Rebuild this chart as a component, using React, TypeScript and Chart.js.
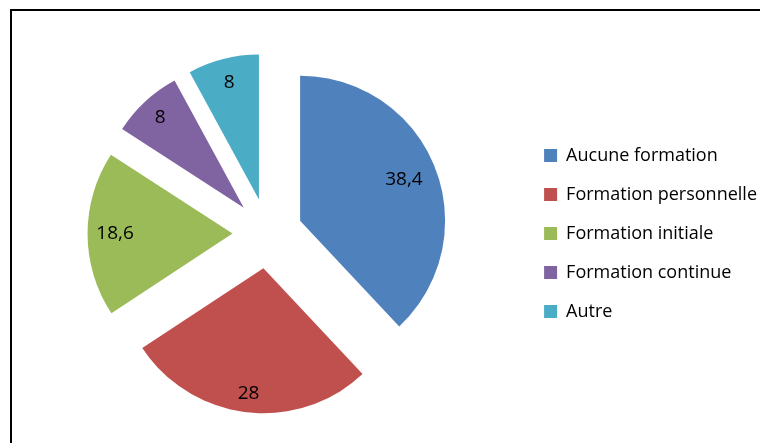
import React, { useEffect, useRef } from 'react';
import { Chart, registerables } from 'chart.js';

Chart.register(...registerables);

const categories = ['Aucune formation', 'Formation personnelle', 'Formation initiale', 'Formation continue', 'Autre'];
const values = [38.4, 28, 18.6, 8, 8];
const valueLabels = ['38,4', '28', '18,6', '8', '8'];
const colors = ['#4F81BD', '#C0504D', '#9BBB59', '#8064A2', '#4BACC6'];

const EXPLODE = 35;
const RADIUS = 145;
const LABEL_RADIUS = [0.77, 0.87, 0.81, 0.85, 0.83];
const FONT_FAMILY = '"Open Sans", "Noto Sans", sans-serif';
const LEGEND_FONT_SIZE = 18;
const LABEL_FONT_SIZE = 19;

const explodedPie = {
  id: 'explodedPie',
  beforeDatasetDraw(chart: any, args: any) {
    const ctx = chart.ctx;
    args.meta.data.forEach((arc: any) => {
      const { x, y, startAngle, endAngle, outerRadius } = arc.getProps(['x', 'y', 'startAngle', 'endAngle', 'outerRadius'], true);
      const mid = (startAngle + endAngle) / 2;
      const cx = x + Math.cos(mid) * EXPLODE;
      const cy = y + Math.sin(mid) * EXPLODE;
      ctx.save();
      ctx.beginPath();
      ctx.moveTo(cx, cy);
      ctx.arc(cx, cy, outerRadius, startAngle, endAngle);
      ctx.closePath();
      ctx.fillStyle = arc.options.backgroundColor;
      ctx.fill();
      ctx.restore();
    });
    return false;
  },
  afterDatasetsDraw(chart: any) {
    const ctx = chart.ctx;
    const meta = chart.getDatasetMeta(0);
    ctx.save();
    ctx.font = `${LABEL_FONT_SIZE}px ${FONT_FAMILY}`;
    ctx.fillStyle = '#000';
    ctx.textAlign = 'center';
    ctx.textBaseline = 'middle';
    meta.data.forEach((arc: any, i: number) => {
      const { x, y, startAngle, endAngle, outerRadius } = arc.getProps(['x', 'y', 'startAngle', 'endAngle', 'outerRadius'], true);
      const mid = (startAngle + endAngle) / 2;
      const d = EXPLODE + outerRadius * LABEL_RADIUS[i];
      ctx.fillText(valueLabels[i], x + Math.cos(mid) * d, y + Math.sin(mid) * d);
    });
    ctx.restore();
  },
};

export default function App() {
  const canvasRef = useRef<HTMLCanvasElement | null>(null);

  useEffect(() => {
    if (!canvasRef.current) return;
    const chart = new Chart(canvasRef.current, {
      type: 'pie',
      data: {
        labels: categories,
        datasets: [
          {
            data: values,
            backgroundColor: colors,
            borderWidth: 0,
          },
        ],
      },
      options: {
        responsive: false,
        animation: false,
        events: [],
        radius: RADIUS,
        layout: { padding: { left: 12, right: -7, top: 24, bottom: 0 } },
        plugins: {
          tooltip: { enabled: false },
          legend: {
            position: 'right',
            labels: {
              boxWidth: 13,
              boxHeight: 13,
              padding: 21,
              color: '#000',
              font: { family: FONT_FAMILY, size: LEGEND_FONT_SIZE },
            },
          },
        },
      } as any,
      plugins: [explodedPie],
    });
    return () => chart.destroy();
  }, []);

  return (
    <div style={{ position: 'fixed', left: 0, top: 0, width: 760, height: 443, background: '#fff', overflow: 'hidden' }}>
      <canvas ref={canvasRef} width={760} height={443} style={{ position: 'absolute', left: 0, top: 0 }} />
      <div
        style={{
          position: 'absolute',
          left: 10,
          top: 9,
          width: 760,
          height: 450,
          borderTop: '2px solid #000',
          borderLeft: '2px solid #000',
          pointerEvents: 'none',
        }}
      />
    </div>
  );
}
